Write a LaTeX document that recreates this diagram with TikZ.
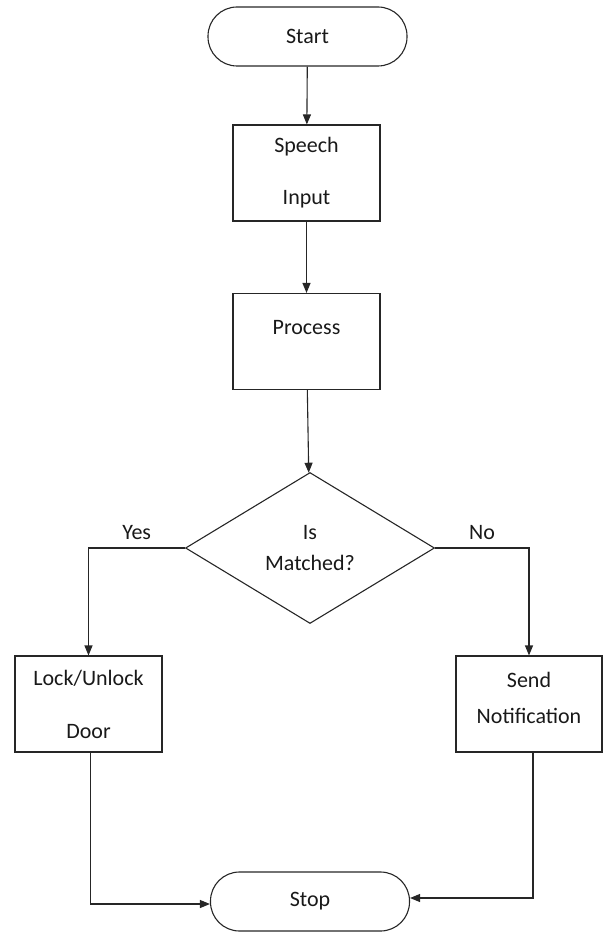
\documentclass[tikz,border=0pt]{standalone}
\usepackage{fontspec}
\setmainfont{Carlito}
\usepackage{tikz}
\usetikzlibrary{arrows.meta}
\usetikzlibrary{shapes.geometric}
\tikzset{
flowtext/.style={font=\fontsize{22}{26}\selectfont, text=black!90},
terminal/.style={flowtext, shape=rectangle, draw=black!85, line width=1.1pt, rounded corners=29pt, minimum width=199pt, minimum height=59pt, inner sep=0pt},
flowbox/.style={flowtext, shape=rectangle, draw=black!85, line width=1.1pt, minimum width=147pt, minimum height=96pt, inner sep=0pt, align=center},
decision/.style={flowtext, shape=diamond, draw=black!85, line width=1.1pt, minimum width=249pt, minimum height=151pt, inner sep=0pt, align=center},
flow/.style={draw=black!85, line width=1.1pt, -{Triangle[width=8pt,length=10pt]}}}

\begin{document}
\begin{tikzpicture}[x=1pt, y=-1pt]
    \useasboundingbox (0,0) rectangle (606,933);

                \node[terminal] (start) at (307.5,36.5) {Start};
                \node[flowbox] (speech) at (306.5,173) {Speech\\[26pt]Input};
                \node[flowbox] (process) at (306.5,341.5) {Process\\[-5pt]\strut};
                \node[decision] (match) at (310,548) {Is\\[5pt]Matched?};
                \node[flowbox] (lock) at (88.5,704) {Lock/Unlock\\[27pt]Door};
                \node[flowbox, minimum width=146pt] (notify) at (529,704) {Send\\[10pt]Notification\\[-14pt]\mbox{}};
                \node[terminal] (stop) at (310,901.5) {Stop};

                \draw[flow] (start) -- (speech);
                \draw[flow] (speech) -- (process);
                \draw[flow] (process) -- (match);
                \draw[flow] (match.west) -| (lock.north) node[pos=0.25, above=4pt, flowtext] {Yes};
                \draw[flow] (match.east) -| (notify.north) node[pos=0.25, above=4pt, flowtext] {No};
                \draw[flow] ([xshift=2pt]lock.south) |- ([yshift=-2.5pt]stop.west);
                \draw[flow] ([xshift=4pt]notify.south) |- ([yshift=3.5pt]stop.east);

            \end{tikzpicture}
\end{document}
